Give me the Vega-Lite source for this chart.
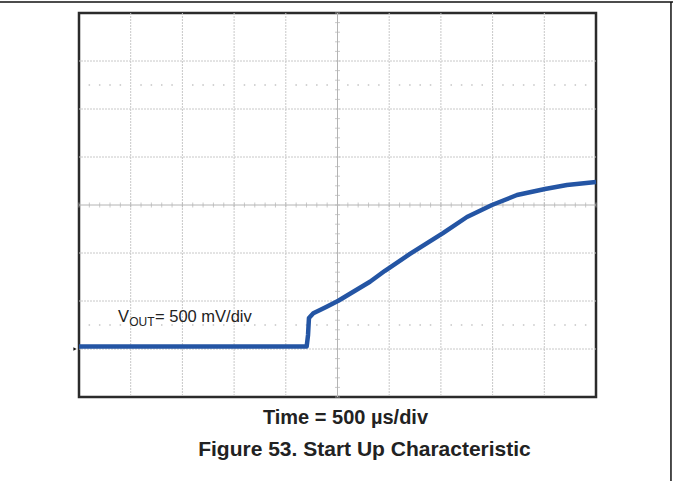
{
  "$schema": "https://vega.github.io/schema/vega-lite/v6.json",
  "width": 517,
  "height": 384,
  "autosize": "none",
  "padding": {"left": 79, "top": 13, "right": 77, "bottom": 84},
  "background": "white",
  "config": {"view": {"stroke": "#2b2b2b", "strokeWidth": 2.5}, "font": "Liberation Sans"},
  "datasets": {
    "trace": [
      {"t": 0, "v": 0.026}, {"t": 2202, "v": 0.026}, {"t": 2215, "v": 0.146}, {"t": 2224, "v": 0.323},
      {"t": 2266, "v": 0.372}, {"t": 2331, "v": 0.406}, {"t": 2395, "v": 0.441}, {"t": 2508, "v": 0.503},
      {"t": 2814, "v": 0.701}, {"t": 2959, "v": 0.815}, {"t": 3201, "v": 0.99}, {"t": 3520, "v": 1.208},
      {"t": 3752, "v": 1.375}, {"t": 3994, "v": 1.5}, {"t": 4236, "v": 1.604}, {"t": 4507, "v": 1.667},
      {"t": 4719, "v": 1.708}, {"t": 5000, "v": 1.74}
    ],
    "gridT": [{"t": 500}, {"t": 1000}, {"t": 1500}, {"t": 2000}, {"t": 3000}, {"t": 3500}, {"t": 4000}, {"t": 4500}],
    "gridV": [{"v": 0}, {"v": 0.5}, {"v": 1.0}, {"v": 2.0}, {"v": 2.5}, {"v": 3.0}],
    "minorT": [
      {"t": 0}, {"t": 100}, {"t": 200}, {"t": 300}, {"t": 400}, {"t": 500}, {"t": 600}, {"t": 700}, {"t": 800}, {"t": 900},
      {"t": 1000}, {"t": 1100}, {"t": 1200}, {"t": 1300}, {"t": 1400}, {"t": 1500}, {"t": 1600}, {"t": 1700}, {"t": 1800}, {"t": 1900},
      {"t": 2000}, {"t": 2100}, {"t": 2200}, {"t": 2300}, {"t": 2400}, {"t": 2500}, {"t": 2600}, {"t": 2700}, {"t": 2800}, {"t": 2900},
      {"t": 3000}, {"t": 3100}, {"t": 3200}, {"t": 3300}, {"t": 3400}, {"t": 3500}, {"t": 3600}, {"t": 3700}, {"t": 3800}, {"t": 3900},
      {"t": 4000}, {"t": 4100}, {"t": 4200}, {"t": 4300}, {"t": 4400}, {"t": 4500}, {"t": 4600}, {"t": 4700}, {"t": 4800}, {"t": 4900},
      {"t": 5000}
    ],
    "minorV": [
      {"v": -0.5}, {"v": -0.4}, {"v": -0.3}, {"v": -0.2}, {"v": -0.1}, {"v": 0}, {"v": 0.1}, {"v": 0.2}, {"v": 0.3}, {"v": 0.4},
      {"v": 0.5}, {"v": 0.6}, {"v": 0.7}, {"v": 0.8}, {"v": 0.9}, {"v": 1.0}, {"v": 1.1}, {"v": 1.2}, {"v": 1.3}, {"v": 1.4},
      {"v": 1.5}, {"v": 1.6}, {"v": 1.7}, {"v": 1.8}, {"v": 1.9}, {"v": 2.0}, {"v": 2.1}, {"v": 2.2}, {"v": 2.3}, {"v": 2.4},
      {"v": 2.5}, {"v": 2.6}, {"v": 2.7}, {"v": 2.8}, {"v": 2.9}, {"v": 3.0}, {"v": 3.1}, {"v": 3.2}, {"v": 3.3}, {"v": 3.4},
      {"v": 3.5}
    ]
  },
  "layer": [
    {
      "data": {"name": "gridT"},
      "mark": {"type": "rule", "color": "#c8c8c8", "strokeWidth": 1, "strokeDash": [2, 1]},
      "encoding": {
        "x": {"field": "t", "type": "quantitative", "scale": {"domain": [0, 5000], "nice": false, "zero": false}, "axis": null}
      }
    },
    {
      "data": {"name": "gridV"},
      "mark": {"type": "rule", "color": "#c8c8c8", "strokeWidth": 1, "strokeDash": [2, 1]},
      "encoding": {
        "y": {"field": "v", "type": "quantitative", "scale": {"domain": [-0.5, 3.5], "nice": false, "zero": false}, "axis": null}
      }
    },
    {
      "data": {"values": [{"t": 2500}]},
      "mark": {"type": "rule", "color": "#b4b4b4", "strokeWidth": 1},
      "encoding": {"x": {"field": "t", "type": "quantitative", "axis": null}}
    },
    {
      "data": {"values": [{"v": 1.5}]},
      "mark": {"type": "rule", "color": "#b4b4b4", "strokeWidth": 1},
      "encoding": {"y": {"field": "v", "type": "quantitative", "axis": null}}
    },
    {
      "data": {"name": "minorT"},
      "mark": {"type": "tick", "orient": "vertical", "color": "#b4b4b4", "size": 5, "thickness": 1},
      "encoding": {
        "x": {"field": "t", "type": "quantitative", "axis": null},
        "y": {"datum": 1.5, "type": "quantitative", "axis": null}
      }
    },
    {
      "data": {"name": "minorV"},
      "mark": {"type": "tick", "orient": "horizontal", "color": "#b4b4b4", "size": 5, "thickness": 1},
      "encoding": {
        "y": {"field": "v", "type": "quantitative", "axis": null},
        "x": {"datum": 2500, "type": "quantitative", "axis": null}
      }
    },
    {
      "data": {"name": "minorT"},
      "transform": [{"filter": "datum.t % 500 != 0"}],
      "mark": {"type": "tick", "orient": "vertical", "color": "#c0c0c0", "size": 2, "thickness": 1.5},
      "encoding": {
        "x": {"field": "t", "type": "quantitative", "axis": null},
        "y": {"datum": 0.25, "type": "quantitative", "axis": null}
      }
    },
    {
      "data": {"name": "minorT"},
      "transform": [{"filter": "datum.t % 500 != 0"}],
      "mark": {"type": "tick", "orient": "vertical", "color": "#c0c0c0", "size": 2, "thickness": 1.5},
      "encoding": {
        "x": {"field": "t", "type": "quantitative", "axis": null},
        "y": {"datum": 2.75, "type": "quantitative", "axis": null}
      }
    },
    {
      "data": {"name": "trace"},
      "mark": {"type": "line", "color": "#2455a4", "strokeWidth": 4.5, "strokeJoin": "round"},
      "encoding": {
        "x": {"field": "t", "type": "quantitative", "axis": null},
        "y": {"field": "v", "type": "quantitative", "axis": null}
      }
    },
    {
      "data": {"values": [{"t": 0, "v": 0}]},
      "mark": {"type": "point", "shape": "triangle-right", "filled": true, "color": "#111111", "size": 14, "opacity": 1, "xOffset": -4},
      "encoding": {
        "x": {"field": "t", "type": "quantitative", "axis": null},
        "y": {"field": "v", "type": "quantitative", "axis": null}
      }
    },
    {
      "data": {"values": [{"t": 377, "v": 0.281, "label": "V"}]},
      "mark": {"type": "text", "align": "left", "baseline": "alphabetic", "fontSize": 16.5, "font": "Liberation Sans", "color": "#222222"},
      "encoding": {
        "x": {"field": "t", "type": "quantitative", "axis": null},
        "y": {"field": "v", "type": "quantitative", "axis": null},
        "text": {"field": "label"}
      }
    },
    {
      "data": {"values": [{"t": 485, "v": 0.24, "label": "OUT"}]},
      "mark": {"type": "text", "align": "left", "baseline": "alphabetic", "fontSize": 12, "font": "Liberation Sans", "color": "#222222"},
      "encoding": {
        "x": {"field": "t", "type": "quantitative", "axis": null},
        "y": {"field": "v", "type": "quantitative", "axis": null},
        "text": {"field": "label"}
      }
    },
    {
      "data": {"values": [{"t": 735, "v": 0.281, "label": "= 500 mV/div"}]},
      "mark": {"type": "text", "align": "left", "baseline": "alphabetic", "fontSize": 16.5, "font": "Liberation Sans", "color": "#222222"},
      "encoding": {
        "x": {"field": "t", "type": "quantitative", "axis": null},
        "y": {"field": "v", "type": "quantitative", "axis": null},
        "text": {"field": "label"}
      }
    },
    {
      "data": {"values": [{"t": 2577, "v": -0.781, "label": "Time = 500 µs/div"}]},
      "mark": {"type": "text", "align": "center", "baseline": "alphabetic", "fontSize": 20, "fontWeight": "bold", "font": "Liberation Sans", "color": "#222222"},
      "encoding": {
        "x": {"field": "t", "type": "quantitative", "axis": null},
        "y": {"field": "v", "type": "quantitative", "axis": null},
        "text": {"field": "label"}
      }
    },
    {
      "data": {"values": [{"t": 2761, "v": -1.115, "label": "Figure 53. Start Up Characteristic"}]},
      "mark": {"type": "text", "align": "center", "baseline": "alphabetic", "fontSize": 21, "fontWeight": "bold", "font": "Liberation Sans", "color": "#222222"},
      "encoding": {
        "x": {"field": "t", "type": "quantitative", "axis": null},
        "y": {"field": "v", "type": "quantitative", "axis": null},
        "text": {"field": "label"}
      }
    },
    {
      "data": {"values": [{"t": -764, "t2": 5745, "v": 3.615}]},
      "mark": {"type": "rule", "color": "#111111", "strokeWidth": 1.5},
      "encoding": {
        "x": {"field": "t", "type": "quantitative", "axis": null},
        "x2": {"field": "t2"},
        "y": {"field": "v", "type": "quantitative", "axis": null}
      }
    },
    {
      "data": {"values": [{"t": 5725, "v": 3.615, "v2": -1.375}]},
      "mark": {"type": "rule", "color": "#111111", "strokeWidth": 1.5},
      "encoding": {
        "x": {"field": "t", "type": "quantitative", "axis": null},
        "y": {"field": "v", "type": "quantitative", "axis": null},
        "y2": {"field": "v2"}
      }
    }
  ]
}
